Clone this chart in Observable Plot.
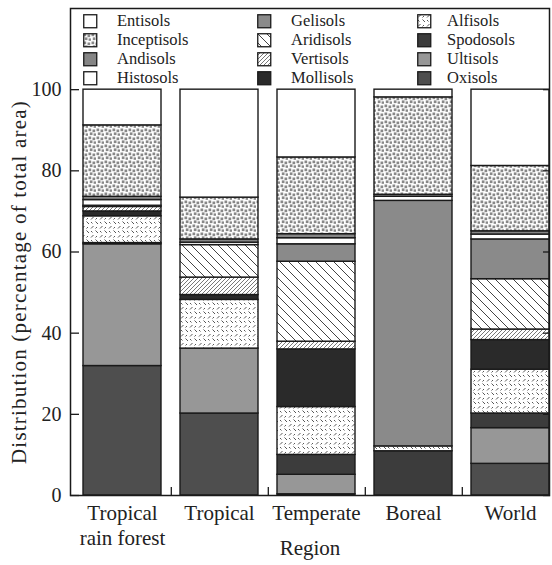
<!DOCTYPE html>
<html><head><meta charset="utf-8">
<script src="https://cdn.jsdelivr.net/npm/d3@7"></script>
<script src="https://cdn.jsdelivr.net/npm/@observablehq/plot@0.6"></script>
<style>
body{margin:0;background:#fff;}
#wrap{position:relative;width:552px;height:565px;font-family:"Liberation Serif",serif;color:#222;}
.item{position:absolute;font-size:16px;line-height:16px;white-space:nowrap;}
.item svg{position:absolute;left:0;top:0;}
.item span{position:absolute;top:0;}
</style></head><body>
<svg width="0" height="0" style="position:absolute">
<defs>
<pattern id="p-incep" patternUnits="userSpaceOnUse" width="8" height="8">
<rect width="8" height="8" fill="#fff"/>
<rect x="0.5" y="0.5" width="2.7" height="2.7" fill="#888"/>
<rect x="4.5" y="1.5" width="2.7" height="2.7" fill="#888"/>
<rect x="1.8" y="4.4" width="2.7" height="2.7" fill="#888"/>
<rect x="5.6" y="5.4" width="2.4" height="2.4" fill="#888"/>
</pattern>
<pattern id="p-arid" patternUnits="userSpaceOnUse" width="9" height="9">
<rect width="9" height="9" fill="#fff"/>
<path d="M0,0L9,9M-3,6L3,12M6,-3L12,3" stroke="#444" stroke-width="1"/>
</pattern>
<pattern id="p-vert" patternUnits="userSpaceOnUse" width="4" height="4">
<rect width="4" height="4" fill="#fff"/>
<path d="M0,4L4,0M-1,1L1,-1M3,5L5,3" stroke="#555" stroke-width="0.8"/>
</pattern>
<pattern id="p-alf" patternUnits="userSpaceOnUse" width="9" height="9">
<rect width="9" height="9" fill="#fff"/>
<path d="M1,3.5L3.5,1M5.5,5.5L8,8M5.5,3.5L7,2M1,6L2.5,7.5" stroke="#444" stroke-width="0.9"/>
</pattern>
</defs>
</svg>
<div id="wrap"></div>
<script>
const regions = ["Tropical rain forest", "Tropical", "Temperate", "Boreal", "World"];
const regionLabels = ["Tropical\nrain forest", "Tropical", "Temperate", "Boreal", "World"];
const yTicks = [0, 20, 40, 60, 80, 100];
const legendOrder = ["Entisols", "Inceptisols", "Andisols", "Histosols", "Gelisols", "Aridisols", "Vertisols", "Mollisols", "Alfisols", "Spodosols", "Ultisols", "Oxisols"];

// values per soil order, in region order
const Oxisols     = [31.9, 20.2, 0.3, 0, 7.8];
const Ultisols    = [30.0, 16.0, 4.8, 0, 8.8];
const Spodosols   = [0.3, 0, 4.9, 10.9, 3.6];
const Alfisols    = [6.6, 12.0, 11.8, 1.2, 10.8];
const Mollisols   = [1.2, 1.2, 14.2, 0, 7.3];
const Vertisols   = [1.1, 4.3, 1.9, 0, 2.6];
const Aridisols   = [0.3, 8.0, 19.7, 0, 12.4];
const Gelisols    = [0, 0, 4.3, 60.5, 9.8];
const Histosols   = [1.4, 0.6, 1.5, 1.0, 1.2];
const Andisols    = [0.8, 0.8, 1.0, 0.5, 0.8];
const Inceptisols = [17.6, 10.3, 18.9, 24.0, 16.1];
const Entisols    = [8.8, 26.6, 16.7, 1.9, 18.8];

const series = {Oxisols, Ultisols, Spodosols, Alfisols, Mollisols, Vertisols, Aridisols, Gelisols, Histosols, Andisols, Inceptisols, Entisols};
const stackOrder = ["Oxisols", "Ultisols", "Spodosols", "Alfisols", "Mollisols", "Vertisols", "Aridisols", "Gelisols", "Histosols", "Andisols", "Inceptisols", "Entisols"];
const fills = {
  Entisols: "#ffffff", Inceptisols: "url(#p-incep)", Andisols: "#858585", Histosols: "#ffffff",
  Gelisols: "#8a8a8a", Aridisols: "url(#p-arid)", Vertisols: "url(#p-vert)", Mollisols: "#2a2a2a",
  Alfisols: "url(#p-alf)", Spodosols: "#3c3c3c", Ultisols: "#979797", Oxisols: "#4e4e4e"
};

const rows = [];
regions.forEach((r, i) => {
  stackOrder.forEach(s => { if (series[s][i] > 0) rows.push({region: r, soil: s, value: series[s][i]}); });
});
const labelOf = Object.fromEntries(regions.map((r, i) => [r, regionLabels[i]]));

const pi = 0.195, po = 0.0512;
const step = (552 - 70 - 3) / (regions.length - pi + 2 * po);

const chart = Plot.plot({
  width: 552, height: 565,
  marginLeft: 70, marginRight: 3, marginTop: 8, marginBottom: 70,
  style: {fontFamily: "'Liberation Serif', serif", fontSize: "20px", color: "#222", background: "white", overflow: "visible"},
  x: {domain: regions, paddingInner: pi, paddingOuter: po, align: 1, label: null},
  y: {domain: [0, 120]},
  color: {type: "ordinal", domain: stackOrder, range: stackOrder.map(s => fills[s])},
  marks: [
    Plot.barY(rows, Plot.stackY({x: "region", y: "value", fill: "soil", stroke: "#1a1a1a", strokeWidth: 1.4})),
    Plot.axisY({ticks: yTicks, tickSize: 0, tickPadding: 9, fontSize: 20, label: null}),
    Plot.axisY({ticks: yTicks, tickSize: -9, tickFormat: () => "", label: null, stroke: "#1a1a1a", strokeWidth: 1.3}),
    Plot.axisY({ticks: yTicks, anchor: "right", tickSize: -7, tickFormat: () => "", label: null, stroke: "#1a1a1a", strokeWidth: 1.3}),
    Plot.axisX({tickSize: 0, tickPadding: 6, tickFormat: d => labelOf[d], fontSize: 21, label: null, lineHeight: 1.22}),
    Plot.axisX({ticks: regions.slice(0, -1), tickSize: -8, dx: step / 2, tickFormat: () => "", label: null, stroke: "#1a1a1a", strokeWidth: 1.3}),
    Plot.text(["Distribution (percentage of total area)"], {frameAnchor: "left", textAnchor: "middle", rotate: -90, dx: -51, dy: 30, fontSize: 21, fill: "#222"}),
    Plot.text(["Region"], {frameAnchor: "bottom", dy: 59, fontSize: 21, fill: "#222"}),
    Plot.frame({stroke: "#1a1a1a", strokeWidth: 1.5})
  ]
});
const wrap = document.getElementById("wrap");
wrap.appendChild(chart);
chart.querySelectorAll("text").forEach(t => { if (t.textContent.startsWith("Distribution")) t.setAttribute("letter-spacing", "1.2"); });

// legend inside the frame
const colX = [83, 257, 417];
legendOrder.forEach((s, k) => {
  const col = Math.floor(k / 4), row = k % 4;
  const div = document.createElement("div");
  div.className = "item";
  div.style.left = colX[col] + "px";
  div.style.top = (14 + row * 19) + "px";
  div.innerHTML = `<svg width="15" height="15"><rect x="0.75" y="0.75" width="13" height="13" fill="${fills[s]}" stroke="#1a1a1a" stroke-width="1.3"/></svg><span style="left:${col === 2 ? 30 : 34}px;top:-1px;font-size:16.5px">${s}</span>`;
  wrap.appendChild(div);
});
</script>
</body></html>
